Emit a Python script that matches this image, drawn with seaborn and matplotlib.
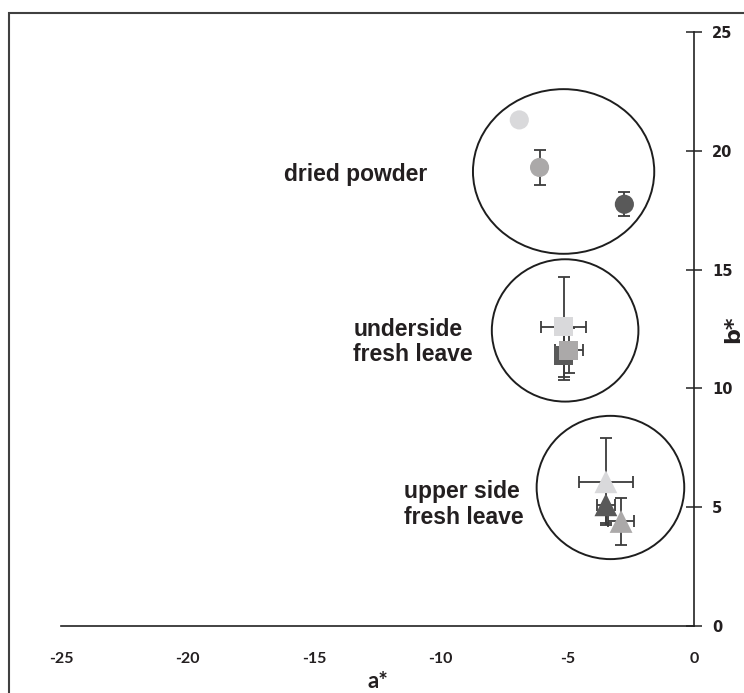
import pandas as pd
import matplotlib
matplotlib.use("Agg")
import matplotlib.pyplot as plt
from matplotlib.patches import Ellipse, Rectangle
import seaborn as sns

# colour values (a*, b*)
samples = ["light", "dark", "medium"]
dried_a = [-6.9, -2.75, -6.1]
dried_b = [21.3, 17.75, 19.3]
dried_aerr = [0.0, 0.0, 0.0]
dried_berr = [0.0, 0.5, 0.75]

under_a = [-5.15, -5.15, -4.95]
under_b = [12.6, 11.4, 11.6]
under_aerr = [0.88, 0.35, 0.55]
under_berr = [2.1, 1.05, 0.95]

upper_a = [-3.48, -3.48, -2.88]
upper_b = [6.07, 5.1, 4.4]
upper_aerr = [1.06, 0.37, 0.53]
upper_berr = [1.83, 0.75, 1.0]

groups = ["dried", "under", "upper"]
group_labels = ["dried powder", "underside\nfresh leave", "upper side\nfresh leave"]
# enclosing circles: centre a, centre b, width, height
circle_a = [-5.15, -5.09, -3.30]
circle_b = [19.13, 12.44, 5.83]
circle_w = [7.16, 5.79, 5.83]
circle_h = [6.93, 5.99, 6.03]

x_ticks = [-25, -20, -15, -10, -5, 0]
y_ticks = [0, 5, 10, 15, 20, 25]

palette = {"light": "#d9d9db", "medium": "#aba9a9", "dark": "#595959"}
markers = {"dried": "o", "under": "s", "upper": "^"}
sizes = {"dried": 190, "under": 190, "upper": 270}

df = pd.DataFrame({
    "a": dried_a + under_a + upper_a,
    "b": dried_b + under_b + upper_b,
    "aerr": dried_aerr + under_aerr + upper_aerr,
    "berr": dried_berr + under_berr + upper_berr,
    "sample": samples * 3,
    "group": [g for g in groups for _ in samples],
})

sns.set_style("white")

fig = plt.figure(figsize=(7.44, 6.93), dpi=100)
ax = fig.add_axes([61 / 744, 1 - 626 / 693, (694 - 61) / 744, (626 - 32) / 693])

# frame around the figure (only left and top edges show)
fig.patches.append(Rectangle((9 / 744, -0.05), 1.2, 1 - 13 / 693 + 0.05,
                             transform=fig.transFigure, fill=False,
                             edgecolor="#404040", linewidth=1.5))

for _, r in df.iterrows():
    ax.errorbar(r["a"], r["b"], xerr=r["aerr"] if r["aerr"] > 0 else None,
                yerr=r["berr"] if r["berr"] > 0 else None, fmt="none",
                ecolor="#3c3c3c", elinewidth=1.3, capsize=4, capthick=1.3,
                zorder=2, clip_on=False)

for g in groups:
    sub = df[df["group"] == g]
    sns.scatterplot(data=sub, x="a", y="b", hue="sample", palette=palette,
                    marker=markers[g], s=sizes[g], linewidth=0, legend=False,
                    ax=ax, zorder=3, clip_on=False)

for ca, cb, w, h in zip(circle_a, circle_b, circle_w, circle_h):
    ax.add_patch(Ellipse((ca, cb), w, h, fill=False, edgecolor="#1e1e1e",
                         linewidth=1.4, zorder=1))

label_pos = [(-16.2, 19.0, "left"), (-13.45, 11.95, "left"), (-11.45, 5.1, "left")]
for (lx, ly, ha), text in zip(label_pos, group_labels):
    ax.text(lx, ly, text, fontsize=16.5, fontweight="bold", color="#231f20",
            ha=ha, va="center", linespacing=1.15,
            fontfamily=["Liberation Sans", "DejaVu Sans"])

ax.set_xlim(-25, 0)
ax.set_ylim(0, 25)
ax.set_xticks(x_ticks)
ax.set_yticks(y_ticks)
ax.set_xticklabels([str(t) for t in x_ticks], fontsize=11.5, fontweight="bold",
                   family="Lato")
ax.set_yticklabels([str(t) for t in y_ticks], fontsize=10.5, fontweight="bold",
                   family="DejaVu Sans")

for s in ["top", "left"]:
    ax.spines[s].set_visible(False)
for s in ["bottom", "right"]:
    ax.spines[s].set_color("#222222")
    ax.spines[s].set_linewidth(1.2)

ax.yaxis.tick_right()
ax.yaxis.set_label_position("right")
ax.tick_params(axis="both", direction="inout", length=12, width=1.1,
               color="#222222", labelcolor="#231f20")
ax.tick_params(axis="x", pad=13)
ax.tick_params(axis="y", pad=7)

ax.set_xlabel("a*", fontsize=16, fontweight="bold", family="Lato",
              color="#231f20", labelpad=3)
ax.set_ylabel("b*", fontsize=16, fontweight="bold", family="DejaVu Sans",
              color="#231f20", va="center")
ax.yaxis.set_label_coords((733 - 61) / 633, 0.5)

fig.savefig("out.png", dpi=100)
